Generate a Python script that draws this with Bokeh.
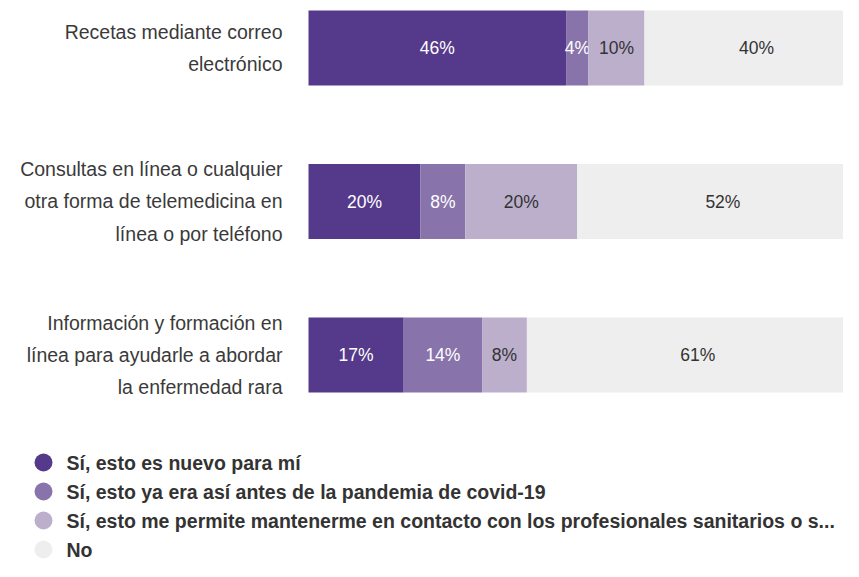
from bokeh.plotting import figure
from bokeh.models import Range1d, ColumnDataSource
from bokeh.core.properties import value
from bokeh.embed import file_html
from bokeh.resources import INLINE

# ---- data ----
categories = [
    "Recetas mediante correo\nelectrónico",
    "Consultas en línea o cualquier\notra forma de telemedicina en\nlínea o por teléfono",
    "Información y formación en\nlínea para ayudarle a abordar\nla enfermedad rara",
]
series_names = [
    "Sí, esto es nuevo para mí",
    "Sí, esto ya era así antes de la pandemia de covid-19",
    "Sí, esto me permite mantenerme en contacto con los profesionales sanitarios o s...",
    "No",
]
nuevo = [46, 20, 17]
ya_era = [4, 8, 14]
contacto = [10, 20, 8]
no = [40, 52, 61]
series_values = [nuevo, ya_era, contacto, no]
colors = ["#55398A", "#8874AA", "#BBAFCC", "#EEEEEE"]
label_colors = ["#FFFFFF", "#FFFFFF", "#333333", "#333333"]

W, H = 843, 561
PX_PER_PCT = 5.6
BAR_LEFT = 308
ROW_STEP = 153.5
FIRST_ROW = 47.5

p = figure(
    width=W, height=H, output_backend="svg", toolbar_location=None,
    x_range=Range1d(-BAR_LEFT / PX_PER_PCT, (W - BAR_LEFT) / PX_PER_PCT),
    y_range=Range1d((H - FIRST_ROW) / ROW_STEP, -FIRST_ROW / ROW_STEP),
    x_axis_location=None, y_axis_location=None,
    min_border=0, outline_line_color=None,
)
p.xgrid.visible = False
p.ygrid.visible = False
p.extra_x_ranges = {"px": Range1d(0, W)}
p.extra_y_ranges = {"py": Range1d(H, 0)}

ys = list(range(len(categories)))

# stacked bars
left = [0.0] * len(categories)
for vals, col, lc in zip(series_values, colors, label_colors):
    right = [l + v for l, v in zip(left, vals)]
    src = ColumnDataSource(dict(
        y=ys, left=left, right=right,
        mid=[(l + r) / 2 for l, r in zip(left, right)],
        txt=[f"{v}%" for v in vals],
    ))
    p.hbar(y="y", left="left", right="right", height=75 / ROW_STEP, source=src,
           fill_color=col, line_color=None)
    p.text(x="mid", y="y", text="txt", source=src,
           text_align="center", text_baseline="middle",
           text_color=lc, text_font=value("Liberation Sans"),
           text_font_size="17.5px")
    left = right

# category labels
p.text(x=[282] * len(categories), y=ys, text=categories,
       x_range_name="px", text_align="right", text_baseline="middle",
       text_color="#3a3a3a", text_font=value("Liberation Sans"),
       text_font_size="19.5px", text_line_height=1.46)

# legend
leg_y = [462 + 29 * i for i in range(len(series_names))]
p.scatter(x=[43] * len(series_names), y=leg_y, size=18, marker="circle",
          fill_color=colors, line_color=None,
          x_range_name="px", y_range_name="py")
p.text(x=[66] * len(series_names), y=leg_y, text=series_names,
       x_range_name="px", y_range_name="py",
       text_align="left", text_baseline="middle",
       text_color="#333333", text_font=value("Liberation Sans"),
       text_font_size="19.5px", text_font_style="bold")

open("out.html", "w").write(file_html(p, INLINE))
